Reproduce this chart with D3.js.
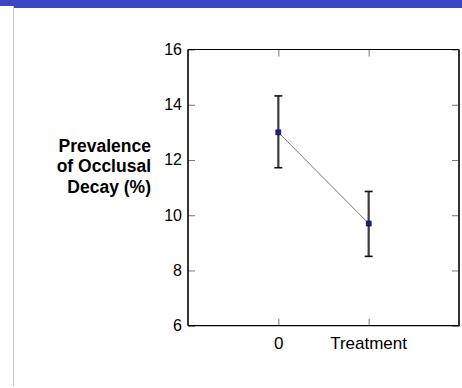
<!DOCTYPE html>
<html lang="en">
<head>
    <meta charset="UTF-8">
    <title>Prevalence of Occlusal Decay</title>
    <script src="https://cdnjs.cloudflare.com/ajax/libs/d3/7.8.5/d3.min.js"></script>
    <style>
        body {
            margin: 0;
            background-color: #fff;
            font-family: Arial, "Liberation Sans", sans-serif;
        }
        .tick line {
            stroke: #777;
        }
        .ylab text {
            font-size: 16px;
        }
        .xlab text {
            font-size: 17px;
        }
    </style>
</head>
<body>
    <div id="chart"></div>
    <script>
        // Values
        const categories = ["0", "Treatment"];
        const means = [13.0, 9.7];
        const upper = [14.32, 10.86];
        const lower = [11.72, 8.51];
        const yTicks = [6, 8, 10, 12, 14, 16];
        const labelLines = ["Prevalence", "of Occlusal", "Decay (%)"];

        const width = 462;
        const height = 388;
        const svg = d3.select("#chart")
            .append("svg")
            .attr("width", width)
            .attr("height", height);

        // Slide decoration: blue band on top and thin rule on the left
        svg.append("rect").attr("x", 0).attr("y", 0).attr("width", width).attr("height", 8).attr("fill", "#3c46c4");
        svg.append("rect").attr("x", 0).attr("y", 6).attr("width", 13).attr("height", 2).attr("fill", "#fff");
        svg.append("line").attr("x1", 13.5).attr("x2", 13.5).attr("y1", 6).attr("y2", 386)
            .attr("stroke", "#c4c4de").attr("stroke-width", 1);

        const plotL = 188, plotR = 459, plotT = 49.5, plotB = 325.7;

        const x = d3.scaleLinear().domain([0, 3]).range([plotL, plotR]);
        const y = d3.scaleLinear().domain([6, 16]).range([plotB, plotT]);

        // Axes with inward ticks
        const yAxis = svg.append("g")
            .attr("class", "ylab")
            .attr("transform", `translate(${plotL},0)`)
            .call(d3.axisLeft(y).tickValues(yTicks).tickSize(-7).tickPadding(6).tickFormat(d3.format("d")));
        yAxis.select(".domain").remove();
        yAxis.selectAll("text").attr("fill", "#000").attr("font-family", "Arial, 'Liberation Sans', sans-serif").attr("dy", "0.3em");

        const yAxisR = svg.append("g")
            .attr("transform", `translate(${plotR},0)`)
            .call(d3.axisRight(y).tickValues(yTicks).tickSize(-7).tickFormat(""));
        yAxisR.select(".domain").remove();

        const xAxis = svg.append("g")
            .attr("class", "xlab")
            .attr("transform", `translate(0,${plotB})`)
            .call(d3.axisBottom(x).tickValues([1, 2]).tickSize(-7).tickPadding(11)
                .tickFormat(d => categories[d - 1]));
        xAxis.select(".domain").remove();
        xAxis.selectAll("text").attr("fill", "#000").attr("font-family", "Arial, 'Liberation Sans', sans-serif");
        // "Treatment" sits a little to the right of its tick
        xAxis.selectAll("text").filter(d => d === 2).attr("text-anchor", "start").attr("dx", -39);

        const xAxisT = svg.append("g")
            .attr("transform", `translate(0,${plotT})`)
            .call(d3.axisTop(x).tickValues([1, 2]).tickSize(-7).tickFormat(""));
        xAxisT.select(".domain").remove();

        // Frame
        svg.append("line").attr("x1", plotL).attr("x2", plotR).attr("y1", plotT).attr("y2", plotT).attr("stroke", "#000").attr("stroke-width", 1.2);
        svg.append("line").attr("x1", plotL).attr("x2", plotR).attr("y1", plotB).attr("y2", plotB).attr("stroke", "#000").attr("stroke-width", 1.2);
        svg.append("line").attr("x1", plotL).attr("x2", plotL).attr("y1", plotT).attr("y2", plotB).attr("stroke", "#000").attr("stroke-width", 1.6);
        svg.append("line").attr("x1", plotR).attr("x2", plotR).attr("y1", plotT).attr("y2", plotB + 0.6).attr("stroke", "#333").attr("stroke-width", 2);

        // Y label
        svg.append("text")
            .attr("text-anchor", "end")
            .attr("font-weight", "bold")
            .attr("font-size", 17.5)
            .attr("fill", "#000")
            .selectAll("tspan")
            .data(labelLines)
            .enter()
            .append("tspan")
            .attr("x", 151)
            .attr("y", (d, i) => 152 + i * 20.3)
            .text(d => d);

        const idx = d3.range(means.length);

        // Connecting line
        svg.append("path")
            .datum(idx)
            .attr("fill", "none")
            .attr("stroke", "#777")
            .attr("stroke-width", 1)
            .attr("d", d3.line().x(i => x(i + 1)).y(i => y(means[i])));

        // Error bars
        const bars = svg.append("g");
        bars.selectAll(".err")
            .data(idx)
            .enter()
            .append("line")
            .attr("x1", i => x(i + 1)).attr("x2", i => x(i + 1))
            .attr("y1", i => y(upper[i])).attr("y2", i => y(lower[i]))
            .attr("stroke", "#3a3a3a").attr("stroke-width", 2.2);
        [upper, lower].forEach(arr => {
            bars.selectAll(null)
                .data(idx)
                .enter()
                .append("line")
                .attr("x1", i => x(i + 1) - 4).attr("x2", i => x(i + 1) + 4)
                .attr("y1", i => y(arr[i])).attr("y2", i => y(arr[i]))
                .attr("stroke", "#111").attr("stroke-width", 1.6);
        });

        // Markers
        svg.selectAll(".pt")
            .data(idx)
            .enter()
            .append("rect")
            .attr("x", i => x(i + 1) - 2.5)
            .attr("y", i => y(means[i]) - 2.5)
            .attr("width", 5)
            .attr("height", 5)
            .attr("fill", "#1a2290")
            .attr("stroke", "#0a0a30")
            .attr("stroke-width", 0.6);
    </script>
</body>
</html>
